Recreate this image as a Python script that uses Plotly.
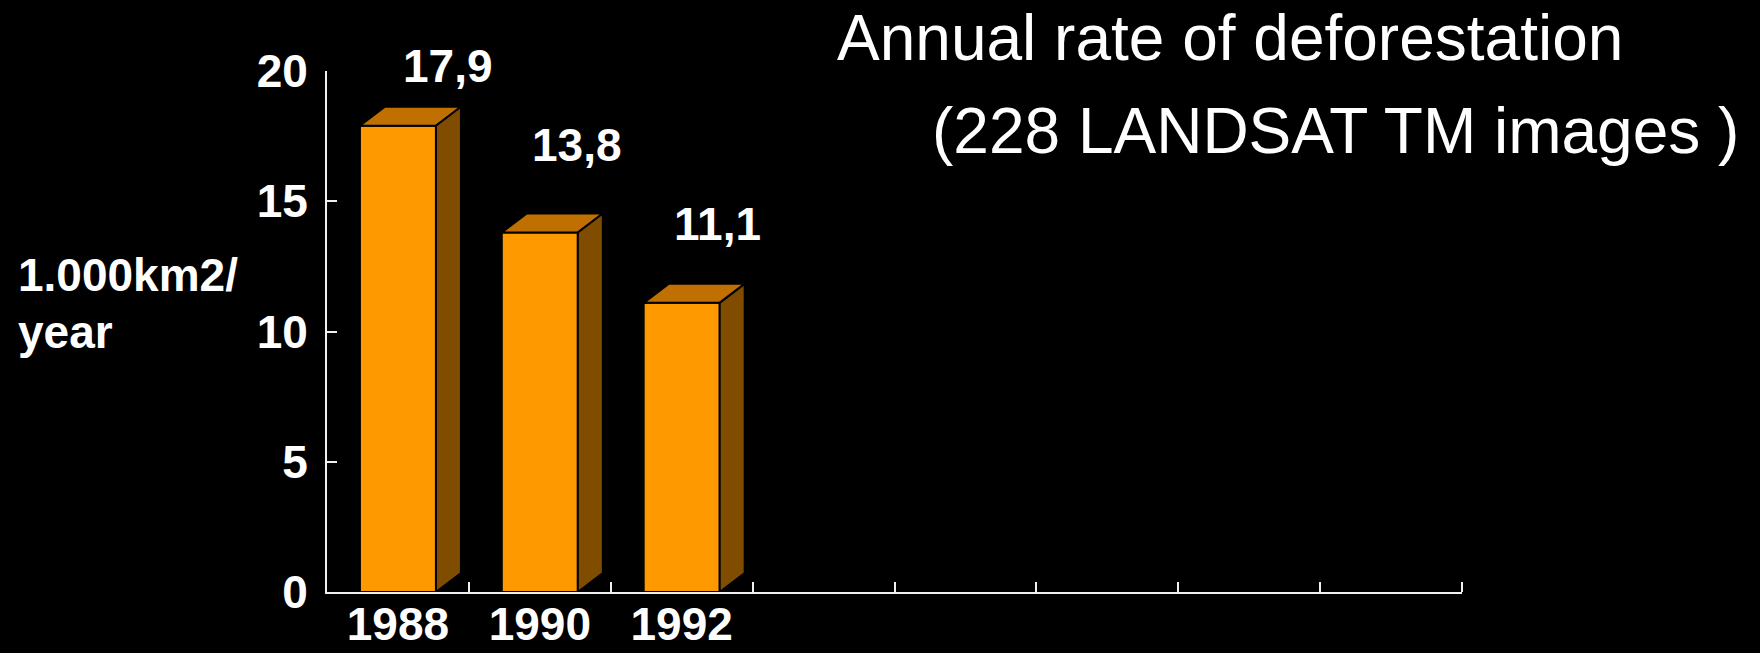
import plotly.graph_objects as go

# ---- data ----
years = ["1988", "1990", "1992"]
rates = [17.9, 13.8, 11.1]
rate_labels = ["17,9", "13,8", "11,1"]
n_slots = 8
y_ticks = [0, 5, 10, 15, 20]
title_line1 = "Annual rate of deforestation"
title_line2 = "(228 LANDSAT TM images )"
ytitle_lines = ["1.000km2/", "year"]

# ---- layout / style ----
W, H = 1760, 653
L, R, T, B = 327, 298, 71, 61
PW, PH = W - L - R, H - T - B
FONT = "Liberation Sans, Arial, sans-serif"
FRONT, TOP, SIDE = "#FF9900", "#C07000", "#7F4C00"
bar_width = 0.536
depth_x = 0.176          # category units
depth_y = 0.73           # value units
label_shift = [(50, 60), (37, 88), (36, 79)]   # pixel offsets of value labels

xs = [i + 0.5 for i in range(len(years))]

fig = go.Figure()
fig.add_trace(go.Bar(
    x=xs, y=rates, width=bar_width,
    marker=dict(color=FRONT, line=dict(color="black", width=2)),
    hoverinfo="skip", showlegend=False,
))
for x, v in zip(xs, rates):
    x0, x1 = x - bar_width / 2, x + bar_width / 2
    # top face
    fig.add_trace(go.Scatter(
        x=[x0, x1, x1 + depth_x, x0 + depth_x, x0],
        y=[v, v, v + depth_y, v + depth_y, v],
        mode="lines", fill="toself", fillcolor=TOP,
        line=dict(color="black", width=2), hoverinfo="skip", showlegend=False,
    ))
    # side face
    fig.add_trace(go.Scatter(
        x=[x1, x1 + depth_x, x1 + depth_x, x1, x1],
        y=[0, depth_y, v + depth_y, v, 0],
        mode="lines", fill="toself", fillcolor=SIDE,
        line=dict(color="black", width=2), hoverinfo="skip", showlegend=False,
    ))

annotations = []
for x, v, lab, (sx, sy) in zip(xs, rates, rate_labels, label_shift):
    annotations.append(dict(
        x=x, y=v, xref="x", yref="y", text=lab, showarrow=False,
        xanchor="center", yanchor="middle", xshift=sx, yshift=sy,
        font=dict(family=FONT, size=46, color="white", weight="bold"),
    ))


def px(xp):
    return (xp - L) / PW


def py(yp):
    return (H - B - yp) / PH


annotations.append(dict(x=px(835), y=py(38), xref="paper", yref="paper",
                        text=title_line1, showarrow=False, xanchor="left", yanchor="middle",
                        font=dict(family=FONT, size=64, color="white")))
annotations.append(dict(x=px(930), y=py(131), xref="paper", yref="paper",
                        text=title_line2, showarrow=False, xanchor="left", yanchor="middle",
                        font=dict(family=FONT, size=64, color="white")))
for txt, yc in zip(ytitle_lines, [275, 332]):
    annotations.append(dict(x=px(16), y=py(yc), xref="paper", yref="paper",
                            text=txt, showarrow=False, xanchor="left", yanchor="middle",
                            font=dict(family=FONT, size=46, color="white", weight="bold")))

fig.update_layout(
    width=W, height=H,
    margin=dict(l=L, r=R, t=T, b=B, pad=0, autoexpand=False),
    paper_bgcolor="black", plot_bgcolor="black",
    showlegend=False,
    annotations=annotations,
    xaxis=dict(
        range=[0, n_slots], showgrid=False, zeroline=False, automargin=False,
        showline=True, linecolor="#F0F0F0", linewidth=2,
        tickmode="array", tickvals=xs, ticktext=years, ticks="",
        ticklabelstandoff=-9,
        tickfont=dict(family=FONT, size=46, color="white", weight="bold"),
        minor=dict(tickmode="array", tickvals=list(range(1, n_slots + 1)),
                   ticks="inside", ticklen=10, tickwidth=2, tickcolor="#F0F0F0"),
        fixedrange=True,
    ),
    yaxis=dict(
        range=[0, 20], showgrid=False, zeroline=False, automargin=False,
        showline=True, linecolor="#F0F0F0", linewidth=2,
        tickmode="array", tickvals=y_ticks,
        ticks="inside", ticklen=10, tickwidth=2, tickcolor="#F0F0F0",
        ticklabelstandoff=8,
        tickfont=dict(family=FONT, size=46, color="white", weight="bold"),
        fixedrange=True,
    ),
)

fig.write_html("out.html", config={"displayModeBar": False})
